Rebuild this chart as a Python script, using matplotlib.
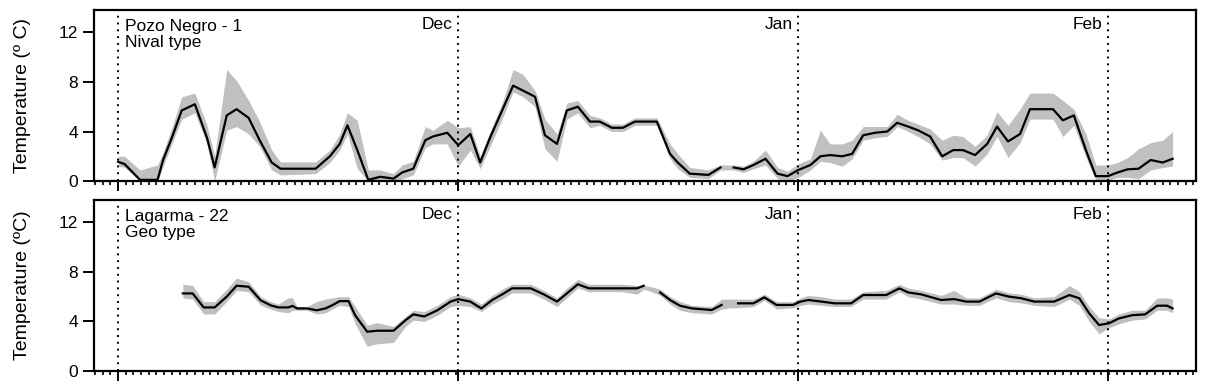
import matplotlib
matplotlib.use('Agg')
import matplotlib.pyplot as plt
from matplotlib.ticker import MultipleLocator
import numpy as np

nan = np.nan

# days counted from the first dotted line
month_pos = [0, 31, 62, 90.2]
month_lab = ['', 'Dec', 'Jan', 'Feb']

# Pozo Negro - 1 (nival type)
pn_day = [0.0, 0.6, 2.0, 3.6, 4.1, 4.9, 5.8, 7.0, 8.1, 8.8, 9.9, 10.8, 11.9, 12.9,
          14.0, 14.8, 18.0, 19.3, 20.2, 20.9, 21.8, 22.8, 23.9, 25.1, 25.9, 26.9,
          28.0, 28.7, 30.0, 31.0, 32.1, 33.0, 33.9, 35.0, 36.0, 36.9, 38.0, 38.9,
          40.0, 40.9, 41.9, 43.0, 43.9, 45.0, 46.0, 47.1, 49.1, 50.3, 51.0, 52.1,
          53.8, 54.9, 55.5, 56.1, 57.0, 57.9, 59.0, 60.1, 61.0, 62.0, 63.1, 64.0,
          64.9, 66.0, 66.9, 67.9, 69.0, 70.1, 71.0, 72.0, 72.9, 74.0, 75.1, 76.1,
          77.0, 78.1, 79.2, 80.1, 81.1, 82.2, 83.1, 85.2, 86.1, 87.1, 88.2, 89.1,
          90.2, 91.1, 92.0, 93.0, 94.1, 95.2, 96.1]
pn_mean = [1.56, 1.37, 0.1, 0.1, 1.7, 3.5, 5.7, 6.2, 3.5, 1.1, 5.3, 5.8, 5.1, 3.3,
           1.5, 1.0, 1.0, 2.0, 3.0, 4.5, 2.5, 0.1, 0.35, 0.2, 0.7, 1.0,
           3.3, 3.6, 3.9, 2.9, 3.8, 1.5, 3.5, 5.7, 7.7, 7.3, 6.8, 3.7,
           3.0, 5.7, 6.0, 4.8, 4.8, 4.3, 4.3, 4.8, 4.8, 2.2, 1.5, 0.6,
           0.5, 1.1, nan, 1.1, 0.95, 1.3, 1.8, 0.6, 0.4, 0.9, 1.3, 2.0,
           2.1, 2.0, 2.2, 3.7, 3.9, 4.0, 4.7, 4.4, 4.1, 3.6, 2.0, 2.5,
           2.5, 2.1, 3.0, 4.4, 3.2, 3.8, 5.8, 5.8, 4.9, 5.3, 2.5, 0.4,
           0.4, 0.7, 0.95, 1.0, 1.7, 1.5, 1.8]
pn_min = [1.2, 1.1, 0.0, 0.0, 1.2, 3.0, 5.0, 5.5, 3.0, 0.0, 4.1, 4.4, 3.8, 2.8,
          0.9, 0.5, 0.6, 1.5, 2.5, 3.8, 1.0, 0.0, 0.0, 0.0, 0.2, 0.5,
          2.7, 3.0, 3.0, 1.2, 2.5, 1.0, 2.8, 5.0, 7.2, 6.8, 6.0, 2.6,
          1.6, 5.0, 5.5, 4.3, 4.5, 4.0, 4.0, 4.5, 4.5, 1.8, 1.0, 0.3,
          0.2, 0.9, 0.9, 0.9, 0.7, 1.0, 1.3, 0.2, 0.0, 0.3, 0.9, 1.6,
          1.5, 1.2, 1.8, 3.3, 3.5, 3.6, 4.4, 4.0, 3.6, 3.0, 1.7, 1.9,
          1.9, 1.2, 2.2, 3.6, 1.9, 3.1, 5.0, 5.0, 3.6, 4.5, 1.9, 0.1,
          0.1, 0.3, 0.3, 0.2, 0.9, 1.1, 1.2]
pn_max = [2.0, 2.0, 0.9, 1.3, 2.3, 4.3, 6.8, 7.1, 4.5, 2.0, 9.0, 8.1, 6.5, 4.8,
          2.5, 1.55, 1.55, 2.5, 3.8, 5.5, 4.9, 0.9, 0.9, 0.6, 1.3, 1.6,
          4.4, 4.1, 4.9, 4.3, 4.4, 2.0, 4.0, 6.3, 9.0, 8.6, 7.3, 5.0,
          3.8, 6.3, 6.5, 5.3, 5.1, 4.6, 4.6, 5.1, 5.1, 3.0, 2.2, 1.1,
          0.9, 1.3, 1.3, 1.3, 1.2, 1.6, 2.5, 1.1, 0.8, 1.4, 1.8, 4.1,
          3.0, 3.0, 3.3, 4.4, 4.4, 4.4, 5.4, 4.9, 4.6, 4.2, 3.3, 3.7,
          3.6, 2.8, 3.7, 5.6, 4.5, 5.8, 7.1, 7.1, 6.5, 5.8, 3.8, 1.3,
          1.3, 1.5, 1.9, 2.6, 3.1, 3.3, 4.0]

# Lagarma - 22 (geo type)
lg_day = [5.9, 6.8, 7.8, 8.8, 9.9, 10.8, 11.9, 13.0, 13.9, 14.6, 15.5, 15.9, 16.3,
          17.2, 18.1, 18.9, 19.5, 20.2, 21.0, 21.6, 22.7, 23.6, 25.1, 26.2, 26.9,
          27.9, 29.1, 30.3, 31.0, 32.1, 33.1, 34.1, 35.0, 35.9, 37.6, 38.8, 40.0,
          40.9, 41.9, 42.9, 45.9, 47.3, 47.9, 48.6, 49.4, 50.3, 51.2, 52.3, 54.1,
          55.0, 55.8, 56.5, 57.9, 58.9, 60.0, 61.5, 62.2, 62.9, 64.1, 65.3, 66.8,
          67.9, 70.0, 71.2, 72.0, 73.2, 75.0, 76.2, 77.3, 78.5, 80.0, 81.2, 82.3,
          83.5, 85.3, 86.7, 87.6, 88.5, 89.4, 90.3, 91.2, 92.4, 93.6, 94.7, 95.6,
          96.1]
lg_mean = [6.26, 6.26, 5.13, 5.13, 6.0, 6.88, 6.8, 5.7, 5.3, 5.13, 5.13, 5.25, 5.05,
           5.05, 4.9, 5.05, 5.3, 5.64, 5.64, 4.5, 3.17, 3.25, 3.25, 4.1, 4.57,
           4.4, 4.9, 5.6, 5.8, 5.6, 5.05, 5.73, 6.18, 6.67, 6.67, 6.18, 5.6,
           6.26, 7.0, 6.67, 6.67, 6.67, 6.88, nan, 6.34, 5.73, 5.27, 5.05, 4.92,
           5.33, nan, 5.46, 5.46, 5.94, 5.33, 5.33, 5.6, 5.73, 5.6, 5.46, 5.46,
           6.13, 6.13, 6.67, 6.34, 6.18, 5.73, 5.8, 5.6, 5.6, 6.26, 6.0, 5.87,
           5.6, 5.6, 6.13, 5.87, 4.65, 3.71, 3.85, 4.24, 4.5, 4.57, 5.27, 5.27,
           5.05]
lg_min = [5.9, 5.8, 4.6, 4.6, 5.6, 6.5, 6.4, 5.3, 5.0, 4.8, 4.7, 4.9, 4.9,
          4.9, 4.6, 4.7, 5.0, 5.3, 5.2, 3.8, 2.0, 2.2, 2.3, 3.6, 4.1,
          4.0, 4.5, 5.2, 5.3, 5.2, 4.8, 5.4, 5.8, 6.3, 6.3, 5.8, 5.2,
          5.9, 6.7, 6.4, 6.4, 6.2, 6.6, 6.4, 6.1, 5.4, 4.9, 4.7, 4.6,
          5.0, 5.1, 5.1, 5.2, 5.7, 5.0, 5.1, 5.3, 5.4, 5.3, 5.2, 5.2,
          5.8, 5.8, 6.4, 6.0, 5.8, 5.4, 5.4, 5.3, 5.3, 5.9, 5.6, 5.5,
          5.3, 5.2, 5.8, 5.3, 4.0, 3.0, 3.5, 3.8, 4.1, 4.2, 4.9, 4.9,
          4.7]
lg_max = [7.0, 6.9, 5.6, 5.6, 6.6, 7.5, 7.2, 6.0, 5.6, 5.4, 5.9, 5.9, 5.2,
          5.2, 5.6, 5.8, 5.9, 6.0, 6.0, 5.2, 3.7, 3.9, 3.6, 4.4, 4.9,
          4.8, 5.3, 6.0, 6.2, 5.9, 5.4, 6.1, 6.6, 7.0, 7.0, 6.5, 5.9,
          6.7, 7.4, 7.0, 7.0, 6.9, 6.9, 6.8, 6.6, 6.0, 5.6, 5.3, 5.2,
          5.8, 5.8, 5.8, 5.8, 6.2, 5.6, 5.6, 5.9, 6.1, 6.0, 5.8, 5.8,
          6.4, 6.5, 7.0, 6.7, 6.5, 6.1, 6.5, 5.9, 5.9, 6.6, 6.3, 6.2,
          5.9, 6.0, 6.9, 6.4, 5.2, 4.3, 4.2, 4.6, 4.9, 4.9, 5.9, 5.9,
          5.8]

panels = [
    (pn_day, pn_mean, pn_min, pn_max, 'Pozo Negro - 1\nNival type', 'Temperature (º C)'),
    (lg_day, lg_mean, lg_min, lg_max, 'Lagarma - 22\nGeo type', 'Temperature (ºC)'),
]

plt.rcParams['font.family'] = ['Liberation Sans', 'DejaVu Sans']

fig = plt.figure(figsize=(12.31, 3.92), dpi=100)
rects = [[0.0764, 0.538, 0.8955, 0.4365], [0.0764, 0.0536, 0.8955, 0.4362]]

for rect, (day, mean, lo, hi, title, ylab) in zip(rects, panels):
    ax = fig.add_axes(rect)
    ax.fill_between(day, lo, hi, color='#c0c0c0', lw=0)
    ax.plot(day, mean, '-', color='k', lw=1.6)
    for p, lab in zip(month_pos, month_lab):
        ax.axvline(p, color='k', ls=(0, (1, 2.5)), lw=1.4)
        if lab:
            ax.text(p - 0.5, 12.6, lab, ha='right', va='center', fontsize=12.5)
    ax.text(0.6, 13.1, title, ha='left', va='top', fontsize=12.5, linespacing=1.15)
    ax.set_xlim(-2.19, 98.27)
    ax.set_ylim(0, 13.8)
    ax.set_yticks([0, 4, 8, 12])
    ax.set_xticks(month_pos)
    ax.set_xticklabels([])
    ax.xaxis.set_minor_locator(MultipleLocator(0.7))
    ax.tick_params(axis='y', direction='out', length=8, width=1.4, labelsize=12.5)
    ax.tick_params(axis='x', which='major', direction='out', length=7, width=1.4)
    ax.tick_params(axis='x', which='minor', direction='out', length=3, width=1.2)
    ax.set_ylabel(ylab, fontsize=14)
    ax.yaxis.set_label_coords(-0.057, 0.5)
    for s in ax.spines.values():
        s.set_linewidth(1.6)

fig.savefig('out.png', dpi=100)
